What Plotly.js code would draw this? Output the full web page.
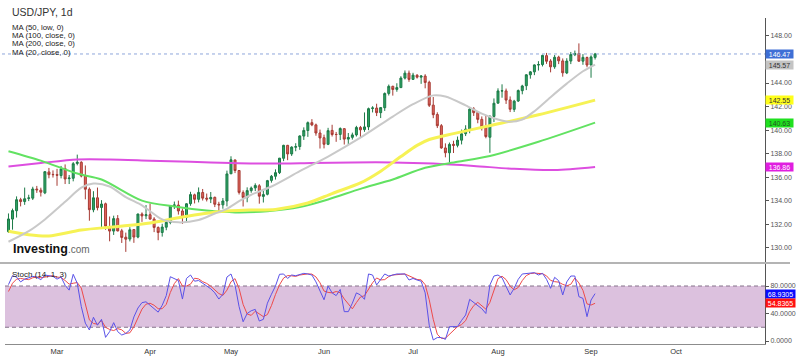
<!DOCTYPE html>
<html>
<head>
<meta charset="utf-8">
<script src="https://cdn.plot.ly/plotly-3.0.1.min.js"></script>
<style>html,body{margin:0;padding:0;background:#fff;}#chart{width:798px;height:357px;}</style>
</head>
<body>
<div id="chart"></div>
<script>
// ---- Data (USD/JPY daily) ----
const firstDay = '2023-02-13';
const lastAxisDay = '2023-10-31';
const monthNames = ['Jan','Feb','Mar','Apr','May','Jun','Jul','Aug','Sep','Oct','Nov','Dec'];
const priceTicks = [130,132,134,136,138,140,142,144,148];
const stochTicks = [0,40,80];

const opens = [131.36,132.43,133.14,134.08,133.92,134.19,134.21,134.98,134.89,134.66,136.44,136.23,
136.21,136.13,136.72,135.87,135.90,137.16,137.26,136.12,134.97,133.22,134.24,133.42,133.73,131.79,131.41,132.47,131.43,130.89,130.73,131.54,130.90,132.86,132.71,
132.80,132.43,131.71,131.29,131.74,132.14,133.58,133.62,133.12,132.58,133.74,134.49,134.11,134.69,134.21,134.14,134.28,133.69,133.64,133.97,
136.28,137.46,136.56,134.68,134.26,134.85,135.08,135.26,134.36,134.54,135.72,136.07,136.38,137.60,138.70,137.97,138.54,138.60,139.49,139.96,140.63,140.44,139.75,
139.35,138.79,139.97,139.63,139.63,140.12,139.23,139.38,139.59,140.22,140.04,140.27,141.84,141.87,141.48,141.90,143.12,143.72,143.46,143.61,144.42,144.84,
144.31,144.66,144.50,144.59,144.06,142.12,141.32,140.37,138.48,138.07,138.79,138.70,139.14,139.69,140.09,141.80,141.49,140.91,140.26,139.39,141.16,
142.29,143.32,143.33,142.56,141.76,142.47,143.35,143.77,144.70,144.95,145.53,145.57,146.33,145.87,145.38,146.20,145.88,144.86,145.87,146.41,146.51,145.86,146.17,
145.54,146.18];
const highs = [132.91,133.32,134.36,134.24,135.11,134.50,135.18,135.25,135.10,136.51,136.78,136.57,
136.70,136.95,137.08,136.18,137.28,137.91,137.35,136.99,135.12,134.80,135.11,134.04,133.83,132.65,132.72,132.77,131.60,131.28,131.74,131.58,132.89,133.00,133.62,
133.75,132.59,131.81,132.03,132.38,133.60,133.92,134.00,133.33,133.78,134.75,134.59,135.12,134.99,134.60,134.73,134.34,133.90,134.22,136.55,
137.77,137.47,136.59,134.87,135.13,135.20,135.47,135.40,134.83,135.76,136.18,136.66,137.63,138.75,138.74,138.62,138.88,139.55,140.23,140.73,140.93,140.55,140.04,
139.61,140.19,140.45,139.84,140.23,140.16,139.75,139.78,140.36,140.35,141.50,141.91,142.03,142.24,141.96,143.20,143.87,143.77,143.98,144.58,145.07,145.06,
144.87,144.76,144.68,144.75,144.20,142.81,141.51,140.51,138.87,138.94,139.09,139.45,140.04,140.41,141.93,141.95,141.61,141.16,141.27,141.25,142.69,
143.55,143.89,143.53,142.86,142.57,143.45,143.85,144.75,145.01,145.58,145.86,146.41,146.56,146.03,146.38,146.32,146.09,146.11,146.64,146.76,147.37,146.46,146.25,
146.36,146.56];
const lows = [131.25,131.53,132.56,133.51,133.64,133.96,134.05,134.66,134.35,134.55,135.90,135.96,
135.26,135.89,135.41,135.41,135.64,137.00,135.98,134.11,132.29,133.01,133.17,131.74,131.52,130.54,131.08,131.39,130.40,129.64,130.53,130.41,130.80,132.19,132.43,
132.38,131.32,130.63,130.94,131.48,131.99,133.29,132.81,132.02,132.21,133.56,133.76,133.85,134.01,133.93,133.79,133.45,133.01,133.31,133.51,
136.28,136.34,134.52,133.50,133.86,134.67,134.81,133.74,133.84,134.45,135.53,135.79,136.26,137.36,137.44,137.80,138.20,138.32,139.16,139.42,140.33,139.52,138.43,
138.44,138.72,139.45,139.00,139.15,138.77,138.75,139.19,139.45,139.32,139.85,139.99,141.50,141.19,141.02,141.63,142.94,142.93,143.26,143.61,144.30,144.10,
144.30,144.38,143.93,143.55,141.96,141.01,140.17,138.41,137.68,137.24,138.05,138.53,138.78,139.49,139.73,141.20,140.58,139.96,139.30,138.07,140.68,
142.26,142.75,142.22,141.53,141.54,142.39,143.04,143.40,144.37,144.67,145.06,145.41,145.63,144.91,145.21,145.61,144.54,144.76,145.61,146.29,145.81,145.55,145.34,
144.45,146.00];
const closes = [132.44,133.15,134.08,133.92,134.16,134.23,134.99,134.92,134.72,136.46,136.21,136.21,
136.16,136.69,135.84,135.92,137.14,137.26,136.09,134.97,133.23,134.24,133.40,133.71,131.83,131.41,132.47,131.42,130.87,130.72,131.52,130.90,132.86,132.70,132.80,
132.43,131.72,131.29,131.75,132.15,133.58,133.63,133.12,132.58,133.73,134.51,134.11,134.70,134.21,134.13,134.27,133.69,133.64,133.97,136.27,
137.47,136.56,134.70,134.27,134.85,135.07,135.29,134.38,134.51,135.70,136.07,136.38,137.61,138.70,137.97,138.55,138.59,139.50,139.97,140.63,140.44,139.75,139.33,
138.79,139.95,139.62,139.62,140.13,139.23,139.37,139.59,140.22,140.02,140.27,141.82,141.88,141.48,141.91,143.11,143.72,143.45,143.61,144.42,144.84,144.31,
144.67,144.50,144.59,144.05,142.11,141.31,140.37,138.48,138.07,138.78,138.70,139.14,139.68,140.08,141.78,141.48,140.91,140.26,139.45,141.17,142.28,
143.33,143.34,142.55,141.77,142.46,143.36,143.75,144.70,144.95,145.54,145.57,146.35,145.85,145.38,146.19,145.89,144.87,145.87,146.42,146.51,145.86,146.18,145.53,
146.22,146.47];

// Moving averages sampled along the drawn curves: [trading-day index, value]
const ma20Pts = [[0,130.5],[5,131.4],[9,132.4],[14,133.9],[18,135.1],[21,135.45],[25,135.2],[29,134.3],[33,133.6],[35,133.1],[38,132.4],[42,132.15],[47,132.35],[51,132.9],[54,133.3],[57,133.95],[60,134.5],[65,135.2],[72,136.5],[79,137.75],[87,139.35],[95,141.15],[100,142.2],[105,142.95],[108,142.85],[113,142.1],[117,141.4],[121,140.9],[124,140.7],[127,140.9],[130,141.6],[134,142.8],[138,143.95],[142,145.0],[145,145.57]];
const ma50LowPts = [[0,131.4],[5,131.1],[10,131.0],[18,131.5],[27,131.8],[35,132.1],[43,132.6],[52,133.05],[60,133.2],[66,133.25],[74,133.8],[80,134.6],[87,135.5],[92,136.5],[97,137.75],[101,138.7],[104,139.2],[110,139.7],[120,140.45],[131,141.3],[145,142.55]];
const ma100Pts = [[0,138.2],[8,137.4],[17,136.3],[23,135.8],[33,134.0],[41,133.5],[49,133.15],[56,133.0],[64,133.1],[72,133.45],[79,134.1],[87,135.0],[95,135.8],[103,136.8],[111,137.3],[119,137.8],[131,139.0],[145,140.63]];
const ma200Pts = [[0,136.9],[8,137.2],[17,137.5],[25,137.5],[35,137.4],[45,137.3],[55,137.2],[65,137.15],[75,137.2],[85,137.25],[95,137.25],[105,137.15],[115,136.95],[125,136.7],[135,136.6],[145,136.86]];

// Stochastic (14,1,3): %K (blue) and %D (red), one value per trading day
const stochK = [82,95,93,86,90,92,94,93,89,96,95,94,90,93,81,74,97,84,50,26,16,34.5,23,31.5,5.3,13.6,26.7,13.6,8.7,11,16,35,48,55.8,57,52,47,42,52,66,93.5,91,88,61,91,96,87,88,84,79,76,70,61,68,93,97.5,81.5,50,28,40,44,46,29,31.5,55,68,80,97,97.5,91,96,95,97,98.4,97.5,96,86,72,60,80,70,66,75,42.7,42.7,55,70,67,60.6,97.5,96,81.5,89,97.5,94.5,96,97.5,97.5,97.5,88.7,91,88.7,87,70,23,1.5,5,5,2.4,20.8,20.8,21,30,37.8,60.6,56,52,47,40,81.5,94.5,96,92,80,67,76.6,89.7,97.5,98.4,98.4,99.4,96,98.4,89.7,76.6,92.6,87.7,67,86,94.5,94.5,64.5,62,35.4,59.6,68.9305];
const stochD = [72,84,90,91,90,89.3,92,93,92,92.7,93.3,95,93,92.3,88,82.7,84,85,77,53.3,30.7,25.5,24.5,29.7,19.9,16.8,15.2,18,16.3,11.1,11.9,20.7,33,46.3,53.6,54.9,52,47,47,53.3,70.5,83.5,90.8,80,80,82.7,91.3,90.3,86.3,83.7,79.7,75,69,66.3,74,86.2,90.7,76.3,53.2,39.3,37.3,43.3,39.7,35.5,38.5,51.5,67.7,81.7,91.5,95.2,94.8,94,96,96.8,97.6,97.3,93.2,84.7,72.7,70.7,70,72,70.3,61.2,53.5,46.8,55.9,64,65.9,75,84.7,91.7,88.8,89.3,93.7,96,96,97,97.5,94.6,92.4,89.5,88.9,81.9,60,31.5,9.8,3.8,4.1,9.4,14.7,20.9,23.9,29.6,42.8,51.5,56.2,51.7,46.3,56.2,72,90.7,94.2,89.3,79.7,74.5,77.8,87.9,95.2,98.1,98.7,97.9,97.9,94.7,88.2,86.3,85.6,82.4,80.2,82.5,91.7,84.5,73.7,54,52.3,54.8365];

const lastValues = {price:'146.47', ma20:'145.57', ma50:'142.55', ma100:'140.63', ma200:'136.86', k:'68.9305', d:'54.8365'};

// ---- Trading calendar (weekdays) for the category axis ----
function weekdays(start, end) {
  const out = [];
  const d = new Date(start + 'T00:00:00Z');
  const e = new Date(end + 'T00:00:00Z');
  while (d <= e) {
    const wd = d.getUTCDay();
    if (wd !== 0 && wd !== 6) out.push(d.toISOString().slice(0, 10));
    d.setUTCDate(d.getUTCDate() + 1);
  }
  return out;
}
const axisDates = weekdays(firstDay, lastAxisDay);
const dates = axisDates.slice(0, closes.length);
const tickVals = [], tickText = [];
for (let i = 1; i < axisDates.length; i++) {
  if (axisDates[i].slice(5, 7) !== axisDates[i - 1].slice(5, 7)) {
    tickVals.push(axisDates[i]);
    tickText.push(monthNames[parseInt(axisDates[i].slice(5, 7), 10) - 1]);
  }
}

const FONT = 'Liberation Sans, Arial, sans-serif';
function maTrace(pts, color, width) {
  return {type:'scatter', mode:'lines', x: pts.map(p => axisDates[p[0]]), y: pts.map(p => p[1]),
    line:{color:color, width:width, shape:'spline', smoothing:0.8}, hoverinfo:'skip', xaxis:'x', yaxis:'y'};
}

const traces = [
  maTrace(ma200Pts, '#dd4ee0', 2),
  maTrace(ma100Pts, '#62e262', 2),
  maTrace(ma50LowPts, '#f6f255', 3),
  maTrace(ma20Pts, '#c9c9c9', 2),
  {type:'candlestick', x: dates, open: opens, high: highs, low: lows, close: closes,
    increasing:{line:{color:'#1c7a47', width:1}, fillcolor:'#2ea364'},
    decreasing:{line:{color:'#a63a33', width:1}, fillcolor:'#e2655c'},
    whiskerwidth:0, hoverinfo:'skip', xaxis:'x', yaxis:'y'},
  {type:'scatter', mode:'lines', x: dates, y: stochD, line:{color:'#ee4a4a', width:1}, hoverinfo:'skip', xaxis:'x', yaxis:'y2'},
  {type:'scatter', mode:'lines', x: dates, y: stochK, line:{color:'#5a52e8', width:1}, hoverinfo:'skip', xaxis:'x', yaxis:'y2'}
];

// pixel helpers for paper coordinates (plot area: x 5..765, y 18..344)
const PL = 5, PR = 765, PT = 18, PB = 344;
const px = x => (x - PL) / (PR - PL);
const py = y => (PB - y) / (PB - PT);

function leftText(text, xPix, yPix, size, color) {
  return {xref:'paper', yref:'paper', x: px(xPix), y: py(yPix), xanchor:'left', yanchor:'middle',
    text:text, showarrow:false, borderpad:0, font:{family:FONT, size:size, color:color}};
}
function valueBox(text, yref, yval, bg, fg, w) {
  return {xref:'paper', yref:yref, x:1, y:parseFloat(yval), xanchor:'left', yanchor:'middle', text:text,
    showarrow:false, bgcolor:bg, borderpad:0, width:w, height:8, align:'center',
    font:{family:FONT, size:7, color:fg}};
}

const annotations = [
  leftText('USD/JPY, 1d', 11, 12.5, 10.5, '#333'),
  leftText('MA (50, low, 0)', 11, 27.5, 7.8, '#222'),
  leftText('MA (100, close, 0)', 11, 35.7, 7.8, '#222'),
  leftText('MA (200, close, 0)', 11, 44, 7.8, '#222'),
  leftText('MA (20, close, 0)', 11, 52.3, 7.8, '#222'),
  leftText('<b>Investing</b><span style="font-size:10px;color:#666">.com</span>', 12, 249, 12.5, '#111'),
  leftText('Stoch (14, 1, 3)', 11, 274.5, 8, '#222'),
  valueBox(lastValues.price, 'y', lastValues.price, '#3e6fd6', '#ffffff', 27),
  valueBox(lastValues.ma20, 'y', lastValues.ma20, '#c4c4c4', '#333333', 27),
  valueBox(lastValues.ma50, 'y', lastValues.ma50, '#ffff1a', '#333333', 27),
  valueBox(lastValues.ma100, 'y', lastValues.ma100, '#1fe01f', '#225522', 27),
  valueBox(lastValues.ma200, 'y', lastValues.ma200, '#e01ee0', '#ffffff', 27),
  valueBox(lastValues.k, 'y2', lastValues.k, '#0a0aff', '#ffffff', 29),
  valueBox(lastValues.d, 'y2', lastValues.d, '#ff1010', '#ffffff', 29)
];

const shapes = [
  {type:'rect', xref:'paper', x0:0, x1:1, yref:'y2', y0:20, y1:80, fillcolor:'#dcc1de', line:{width:0}, layer:'below'},
  {type:'line', xref:'paper', x0:0, x1:1, yref:'y2', y0:80, y1:80, line:{color:'#85738a', width:1, dash:'4px,3px'}, layer:'below'},
  {type:'line', xref:'paper', x0:0, x1:1, yref:'y2', y0:20, y1:20, line:{color:'#85738a', width:1, dash:'4px,3px'}, layer:'below'},
  {type:'line', xref:'paper', x0:px(0), x1:px(790), yref:'paper', y0:py(263), y1:py(263), line:{color:'#b4b4b4', width:2}},
  {type:'line', xref:'paper', x0:px(2), x1:1, yref:'y', y0:parseFloat(lastValues.price), y1:parseFloat(lastValues.price), line:{color:'#8ea6dc', width:1, dash:'dot'}}
];

const layout = {
  width:798, height:357,
  margin:{l:PL, r:798 - PR, t:PT, b:357 - PB, pad:0},
  paper_bgcolor:'#ffffff', plot_bgcolor:'#ffffff',
  showlegend:false, hovermode:false,
  font:{family:FONT, size:8, color:'#333'},
  xaxis:{type:'category', categoryorder:'array', categoryarray:axisDates, range:[-0.86, 187.0],
    rangeslider:{visible:false}, tickmode:'array', tickvals:tickVals, ticktext:tickText,
    showgrid:false, zeroline:false, showline:true, linecolor:'#8c8c8c', linewidth:1, ticks:'',
    tickfont:{family:FONT, size:7.5, color:'#333'}, anchor:'y2', fixedrange:true},
  yaxis:{domain:[py(262), 1], range:[128.78, 149.53], side:'right', anchor:'x',
    showgrid:false, zeroline:false, showline:true, linecolor:'#555', linewidth:1,
    ticks:'outside', ticklen:3, tickcolor:'#555', tickmode:'array', tickvals:priceTicks, tickformat:'.2f',
    tickfont:{family:FONT, size:7, color:'#555'}, fixedrange:true},
  yaxis2:{domain:[0, py(264)], range:[-4.36, 112], side:'right', anchor:'x',
    showgrid:false, zeroline:false, showline:true, linecolor:'#555', linewidth:1,
    ticks:'outside', ticklen:3, tickcolor:'#555', tickmode:'array', tickvals:stochTicks, tickformat:'.4f',
    tickfont:{family:FONT, size:7, color:'#555'}, fixedrange:true},
  annotations:annotations,
  shapes:shapes
};

Plotly.newPlot('chart', traces, layout, {staticPlot:true, displayModeBar:false});
</script>
</body>
</html>
